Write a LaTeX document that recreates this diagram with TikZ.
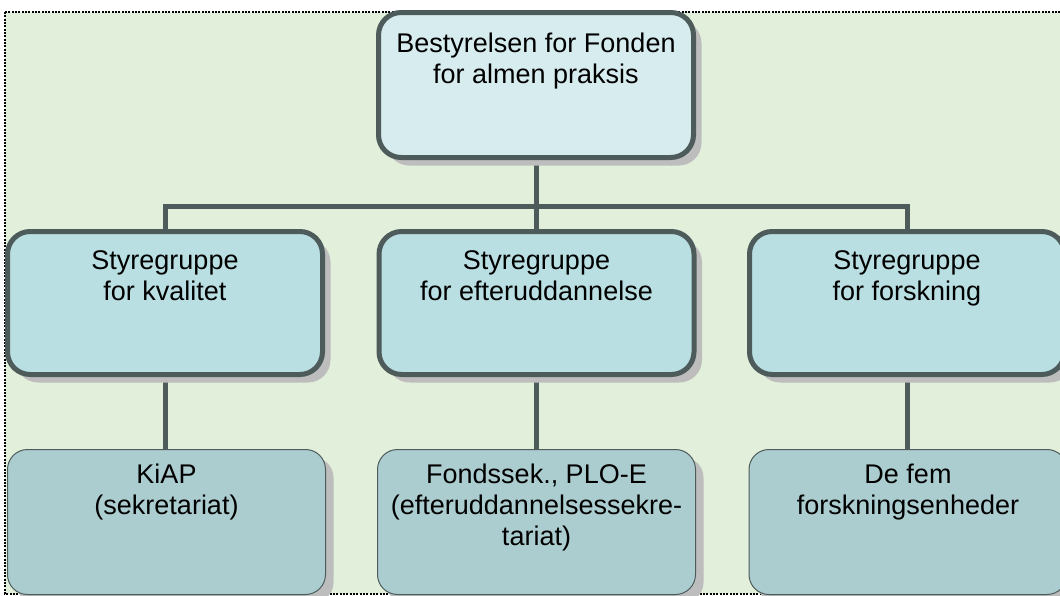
\documentclass[tikz,border=0pt]{standalone}
\usepackage{fontspec}
\setmainfont{Liberation Sans}
\usetikzlibrary{shadows}
\definecolor{bggreen}{HTML}{E2EFDA}
\definecolor{topfill}{HTML}{D7ECEF}
\definecolor{midfill}{HTML}{B9DFE3}
\definecolor{botfill}{HTML}{ACCDD0}
\definecolor{edge}{HTML}{4D5B5B}
\definecolor{shade}{HTML}{BDBDBD}
\pgfdeclarelayer{bglayer}
\pgfdeclarelayer{connlayer}
\pgfsetlayers{bglayer,connlayer,main}
\tikzset{
  boxshadow/.style={drop shadow={shadow xshift=6pt, shadow yshift=-6pt, fill=shade, opacity=1}},
  bigbox/.style={draw=edge, line width=3.75pt, rounded corners=17pt, minimum width=236.25pt, minimum height=108.75pt, inner sep=0pt, boxshadow},
  topbox/.style={bigbox, fill=topfill},
  midbox/.style={bigbox, fill=midfill, minimum height=107.25pt},
  botbox/.style={draw=edge, line width=0.75pt, rounded corners=15pt, fill=botfill, minimum width=238.5pt, minimum height=108.75pt, inner sep=0pt, boxshadow},
  label/.style={anchor=north, align=center, inner sep=0pt, font=\fontsize{20.25pt}{23.25pt}\selectfont},
  conn/.style={draw=edge, line width=3.75pt}
}
\begin{document}
\begin{tikzpicture}[x=0.75pt, y=-0.75pt]
\useasboundingbox (0,0) rectangle (1060,596);
\clip (0,0) rectangle (1060,596);
\begin{pgfonlayer}{bglayer}
  \fill[white] (0,0) rectangle (1060,596);
  \filldraw[fill=bggreen, draw=black, line width=1.5pt, dash pattern=on 1.5pt off 1pt] (5,12) rectangle (1064,594);
\end{pgfonlayer}

\node[topbox] (top) at (536,85) {};
\node[midbox] (m1) at (165,303) {};
\node[midbox] (m2) at (536.5,303) {};
\node[midbox] (m3) at (907,303) {};
\node[botbox] (b1) at (166.5,522) {};
\node[botbox] (b2) at (536.5,522) {};
\node[botbox] (b3) at (908,522) {};

\node[label] (t0) at (536,33) {Bestyrelsen for Fonden\\for almen praksis};
\node[label] (t1) at (165,250) {Styregruppe\\for kvalitet};
\node[label] (t2) at (536.5,250) {Styregruppe\\for efteruddannelse};
\node[label] (t3) at (907,250) {Styregruppe\\for forskning};
\node[label] (t4) at (166.5,464) {KiAP\\(sekretariat)};
\node[label] (t5) at (536.5,464) {Fondssek., PLO-E\\(efteruddannelsessekre-\\tariat)};
\node[label] (t6) at (908,464) {De fem\\forskningsenheder};

\coordinate (bus) at (0,206);
\begin{pgfonlayer}{connlayer}
  \draw[conn] (top.south) -- (top.south |- m2.north);
  \draw[conn] (m1.north) -- (m1.north |- bus) -- (m3.north |- bus) -- (m3.north);
  \draw[conn] (m1.south) -- (m1.south |- b1.north);
  \draw[conn] (m2.south) -- (m2.south |- b2.north);
  \draw[conn] (m3.south) -- (m3.south |- b3.north);
\end{pgfonlayer}
\end{tikzpicture}
\end{document}
